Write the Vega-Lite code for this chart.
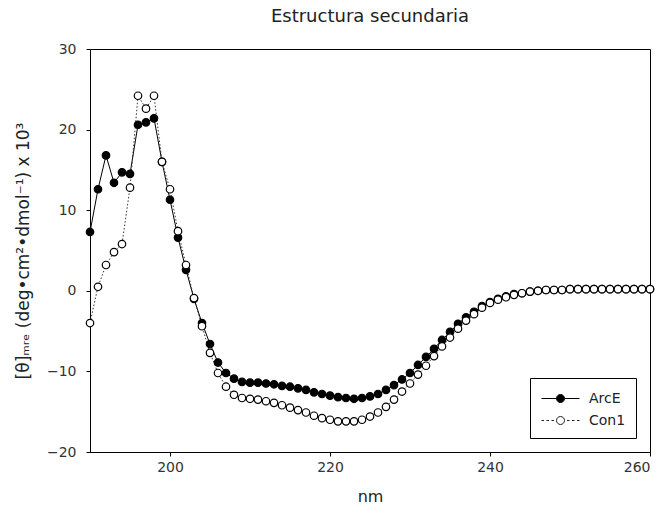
{
  "$schema": "https://vega.github.io/schema/vega-lite/v6.json",
  "width": 560,
  "height": 403,
  "autosize": "none",
  "padding": {"left": 90, "top": 49, "right": 14, "bottom": 62},
  "background": "white",
  "title": {
    "text": "Estructura secundaria",
    "font": "DejaVu Sans",
    "fontSize": 18,
    "fontWeight": "normal",
    "color": "#222",
    "offset": 16
  },
  "config": {
    "view": {"stroke": "black", "strokeWidth": 1},
    "axis": {
      "grid": false,
      "domainColor": "black",
      "tickColor": "black",
      "tickSize": 4,
      "labelFont": "DejaVu Sans",
      "labelFontSize": 14,
      "labelColor": "#333",
      "titleFont": "DejaVu Sans",
      "titleFontSize": 16,
      "titleFontWeight": "normal",
      "titleColor": "#222"
    },
    "legend": {
      "labelFont": "DejaVu Sans",
      "labelFontSize": 14,
      "labelColor": "#222",
      "symbolStrokeWidth": 1
    }
  },
  "data": {
    "values": [
      {"nm": 190, "serie": "ArcE", "theta": 7.3},
      {"nm": 191, "serie": "ArcE", "theta": 12.6},
      {"nm": 192, "serie": "ArcE", "theta": 16.8},
      {"nm": 193, "serie": "ArcE", "theta": 13.4},
      {"nm": 194, "serie": "ArcE", "theta": 14.7},
      {"nm": 195, "serie": "ArcE", "theta": 14.5},
      {"nm": 196, "serie": "ArcE", "theta": 20.6},
      {"nm": 197, "serie": "ArcE", "theta": 20.9},
      {"nm": 198, "serie": "ArcE", "theta": 21.4},
      {"nm": 199, "serie": "ArcE", "theta": 16.0},
      {"nm": 200, "serie": "ArcE", "theta": 11.3},
      {"nm": 201, "serie": "ArcE", "theta": 6.6},
      {"nm": 202, "serie": "ArcE", "theta": 2.6},
      {"nm": 203, "serie": "ArcE", "theta": -1.0},
      {"nm": 204, "serie": "ArcE", "theta": -4.0},
      {"nm": 205, "serie": "ArcE", "theta": -6.6},
      {"nm": 206, "serie": "ArcE", "theta": -8.9},
      {"nm": 207, "serie": "ArcE", "theta": -10.2},
      {"nm": 208, "serie": "ArcE", "theta": -10.9},
      {"nm": 209, "serie": "ArcE", "theta": -11.3},
      {"nm": 210, "serie": "ArcE", "theta": -11.4},
      {"nm": 211, "serie": "ArcE", "theta": -11.4},
      {"nm": 212, "serie": "ArcE", "theta": -11.5},
      {"nm": 213, "serie": "ArcE", "theta": -11.6},
      {"nm": 214, "serie": "ArcE", "theta": -11.8},
      {"nm": 215, "serie": "ArcE", "theta": -11.9},
      {"nm": 216, "serie": "ArcE", "theta": -12.1},
      {"nm": 217, "serie": "ArcE", "theta": -12.3},
      {"nm": 218, "serie": "ArcE", "theta": -12.6},
      {"nm": 219, "serie": "ArcE", "theta": -12.8},
      {"nm": 220, "serie": "ArcE", "theta": -13.0},
      {"nm": 221, "serie": "ArcE", "theta": -13.2},
      {"nm": 222, "serie": "ArcE", "theta": -13.3},
      {"nm": 223, "serie": "ArcE", "theta": -13.4},
      {"nm": 224, "serie": "ArcE", "theta": -13.3},
      {"nm": 225, "serie": "ArcE", "theta": -13.1},
      {"nm": 226, "serie": "ArcE", "theta": -12.8},
      {"nm": 227, "serie": "ArcE", "theta": -12.3},
      {"nm": 228, "serie": "ArcE", "theta": -11.7},
      {"nm": 229, "serie": "ArcE", "theta": -11.0},
      {"nm": 230, "serie": "ArcE", "theta": -10.2},
      {"nm": 231, "serie": "ArcE", "theta": -9.2},
      {"nm": 232, "serie": "ArcE", "theta": -8.2},
      {"nm": 233, "serie": "ArcE", "theta": -7.2},
      {"nm": 234, "serie": "ArcE", "theta": -6.1},
      {"nm": 235, "serie": "ArcE", "theta": -5.1},
      {"nm": 236, "serie": "ArcE", "theta": -4.1},
      {"nm": 237, "serie": "ArcE", "theta": -3.3},
      {"nm": 238, "serie": "ArcE", "theta": -2.6},
      {"nm": 239, "serie": "ArcE", "theta": -1.9},
      {"nm": 240, "serie": "ArcE", "theta": -1.4},
      {"nm": 241, "serie": "ArcE", "theta": -1.0},
      {"nm": 242, "serie": "ArcE", "theta": -0.7},
      {"nm": 243, "serie": "ArcE", "theta": -0.4},
      {"nm": 244, "serie": "ArcE", "theta": -0.3},
      {"nm": 245, "serie": "ArcE", "theta": -0.1},
      {"nm": 246, "serie": "ArcE", "theta": 0.0},
      {"nm": 247, "serie": "ArcE", "theta": 0.1},
      {"nm": 248, "serie": "ArcE", "theta": 0.1},
      {"nm": 249, "serie": "ArcE", "theta": 0.1},
      {"nm": 250, "serie": "ArcE", "theta": 0.2},
      {"nm": 251, "serie": "ArcE", "theta": 0.2},
      {"nm": 252, "serie": "ArcE", "theta": 0.2},
      {"nm": 253, "serie": "ArcE", "theta": 0.2},
      {"nm": 254, "serie": "ArcE", "theta": 0.2},
      {"nm": 255, "serie": "ArcE", "theta": 0.2},
      {"nm": 256, "serie": "ArcE", "theta": 0.2},
      {"nm": 257, "serie": "ArcE", "theta": 0.2},
      {"nm": 258, "serie": "ArcE", "theta": 0.2},
      {"nm": 259, "serie": "ArcE", "theta": 0.2},
      {"nm": 260, "serie": "ArcE", "theta": 0.2},
      {"nm": 190, "serie": "Con1", "theta": -4.0},
      {"nm": 191, "serie": "Con1", "theta": 0.5},
      {"nm": 192, "serie": "Con1", "theta": 3.2},
      {"nm": 193, "serie": "Con1", "theta": 4.8},
      {"nm": 194, "serie": "Con1", "theta": 5.8},
      {"nm": 195, "serie": "Con1", "theta": 12.8},
      {"nm": 196, "serie": "Con1", "theta": 24.2},
      {"nm": 197, "serie": "Con1", "theta": 22.6},
      {"nm": 198, "serie": "Con1", "theta": 24.2},
      {"nm": 199, "serie": "Con1", "theta": 16.0},
      {"nm": 200, "serie": "Con1", "theta": 12.6},
      {"nm": 201, "serie": "Con1", "theta": 7.4},
      {"nm": 202, "serie": "Con1", "theta": 3.2},
      {"nm": 203, "serie": "Con1", "theta": -0.9},
      {"nm": 204, "serie": "Con1", "theta": -4.4},
      {"nm": 205, "serie": "Con1", "theta": -7.7},
      {"nm": 206, "serie": "Con1", "theta": -10.2},
      {"nm": 207, "serie": "Con1", "theta": -11.9},
      {"nm": 208, "serie": "Con1", "theta": -12.9},
      {"nm": 209, "serie": "Con1", "theta": -13.3},
      {"nm": 210, "serie": "Con1", "theta": -13.4},
      {"nm": 211, "serie": "Con1", "theta": -13.5},
      {"nm": 212, "serie": "Con1", "theta": -13.7},
      {"nm": 213, "serie": "Con1", "theta": -13.9},
      {"nm": 214, "serie": "Con1", "theta": -14.2},
      {"nm": 215, "serie": "Con1", "theta": -14.5},
      {"nm": 216, "serie": "Con1", "theta": -14.8},
      {"nm": 217, "serie": "Con1", "theta": -15.1},
      {"nm": 218, "serie": "Con1", "theta": -15.5},
      {"nm": 219, "serie": "Con1", "theta": -15.8},
      {"nm": 220, "serie": "Con1", "theta": -16.0},
      {"nm": 221, "serie": "Con1", "theta": -16.2},
      {"nm": 222, "serie": "Con1", "theta": -16.2},
      {"nm": 223, "serie": "Con1", "theta": -16.2},
      {"nm": 224, "serie": "Con1", "theta": -16.0},
      {"nm": 225, "serie": "Con1", "theta": -15.6},
      {"nm": 226, "serie": "Con1", "theta": -15.1},
      {"nm": 227, "serie": "Con1", "theta": -14.4},
      {"nm": 228, "serie": "Con1", "theta": -13.5},
      {"nm": 229, "serie": "Con1", "theta": -12.5},
      {"nm": 230, "serie": "Con1", "theta": -11.5},
      {"nm": 231, "serie": "Con1", "theta": -10.4},
      {"nm": 232, "serie": "Con1", "theta": -9.3},
      {"nm": 233, "serie": "Con1", "theta": -8.1},
      {"nm": 234, "serie": "Con1", "theta": -6.9},
      {"nm": 235, "serie": "Con1", "theta": -5.8},
      {"nm": 236, "serie": "Con1", "theta": -4.7},
      {"nm": 237, "serie": "Con1", "theta": -3.7},
      {"nm": 238, "serie": "Con1", "theta": -2.9},
      {"nm": 239, "serie": "Con1", "theta": -2.1},
      {"nm": 240, "serie": "Con1", "theta": -1.5},
      {"nm": 241, "serie": "Con1", "theta": -1.1},
      {"nm": 242, "serie": "Con1", "theta": -0.8},
      {"nm": 243, "serie": "Con1", "theta": -0.5},
      {"nm": 244, "serie": "Con1", "theta": -0.3},
      {"nm": 245, "serie": "Con1", "theta": -0.1},
      {"nm": 246, "serie": "Con1", "theta": 0.0},
      {"nm": 247, "serie": "Con1", "theta": 0.1},
      {"nm": 248, "serie": "Con1", "theta": 0.1},
      {"nm": 249, "serie": "Con1", "theta": 0.1},
      {"nm": 250, "serie": "Con1", "theta": 0.2},
      {"nm": 251, "serie": "Con1", "theta": 0.2},
      {"nm": 252, "serie": "Con1", "theta": 0.2},
      {"nm": 253, "serie": "Con1", "theta": 0.2},
      {"nm": 254, "serie": "Con1", "theta": 0.2},
      {"nm": 255, "serie": "Con1", "theta": 0.2},
      {"nm": 256, "serie": "Con1", "theta": 0.2},
      {"nm": 257, "serie": "Con1", "theta": 0.2},
      {"nm": 258, "serie": "Con1", "theta": 0.2},
      {"nm": 259, "serie": "Con1", "theta": 0.2},
      {"nm": 260, "serie": "Con1", "theta": 0.2}
    ]
  },
  "encoding": {
    "x": {
      "field": "nm",
      "type": "quantitative",
      "scale": {"domain": [190, 260], "nice": false, "zero": false},
      "axis": {
        "title": "nm",
        "values": [200, 220, 240, 260],
        "labelPadding": 4,
        "titlePadding": 14
      }
    },
    "y": {
      "field": "theta",
      "type": "quantitative",
      "scale": {"domain": [-20, 30], "nice": false, "zero": false},
      "axis": {
        "title": "[θ]ₘᵣₑ (deg•cm²•dmol⁻¹) x 10³",
        "titleFontSize": 17,
        "values": [-20, -10, 0, 10, 20, 30],
        "labelPadding": 10,
        "titlePadding": 14
      }
    }
  },
  "layer": [
    {
      "transform": [{"filter": "datum.serie === 'ArcE'"}],
      "mark": {"type": "line", "color": "black", "strokeWidth": 1, "clip": true},
      "encoding": {}
    },
    {
      "transform": [{"filter": "datum.serie === 'Con1'"}],
      "mark": {"type": "line", "color": "#333", "strokeWidth": 1, "strokeDash": [1.5, 2], "clip": true},
      "encoding": {}
    },
    {
      "transform": [{"filter": "datum.nm < 0"}],
      "mark": {"type": "point", "strokeWidth": 1, "opacity": 1, "filled": true},
      "encoding": {
        "shape": {
          "field": "serie",
          "type": "nominal",
          "scale": {
            "domain": ["ArcE", "Con1"],
            "range": [
              "M-1.9,0H-0.4M0.4,0H1.9M-0.4,0A0.4,0.4,0,1,0,0.4,0A0.4,0.4,0,1,0,-0.4,0Z",
              "M-1.9,0H-1.65M-1.4,0H-1.15M-0.9,0H-0.65M0.65,0H0.9M1.15,0H1.4M1.65,0H1.9M-0.4,0A0.4,0.4,0,1,0,0.4,0A0.4,0.4,0,1,0,-0.4,0Z"
            ]
          },
          "legend": {
            "title": null,
            "orient": "none",
            "legendX": 440,
            "legendY": 329,
            "padding": 10,
            "strokeColor": "black",
            "fillColor": "white",
            "symbolSize": 400,
            "symbolOffset": 10,
            "labelOffset": 18,
            "rowPadding": 4
          }
        },
        "stroke": {
          "field": "serie",
          "type": "nominal",
          "scale": {"domain": ["ArcE", "Con1"], "range": ["black", "#222"]},
          "legend": {
            "title": null,
            "orient": "none",
            "legendX": 440,
            "legendY": 329,
            "padding": 10,
            "strokeColor": "black",
            "fillColor": "white",
            "symbolSize": 400,
            "symbolOffset": 10,
            "labelOffset": 18,
            "rowPadding": 4
          }
        },
        "fill": {
          "field": "serie",
          "type": "nominal",
          "scale": {"domain": ["ArcE", "Con1"], "range": ["black", "white"]},
          "legend": {
            "title": null,
            "orient": "none",
            "legendX": 440,
            "legendY": 329,
            "padding": 10,
            "strokeColor": "black",
            "fillColor": "white",
            "symbolSize": 400,
            "symbolOffset": 10,
            "labelOffset": 18,
            "rowPadding": 4
          }
        }
      }
    },
    {
      "mark": {"type": "point", "shape": "circle", "size": 56, "stroke": "black", "strokeWidth": 1.2, "opacity": 1, "filled": true},
      "encoding": {
        "fill": {
          "field": "serie",
          "type": "nominal",
          "scale": {"domain": ["ArcE", "Con1"], "range": ["black", "white"]}
        }
      }
    }
  ]
}
